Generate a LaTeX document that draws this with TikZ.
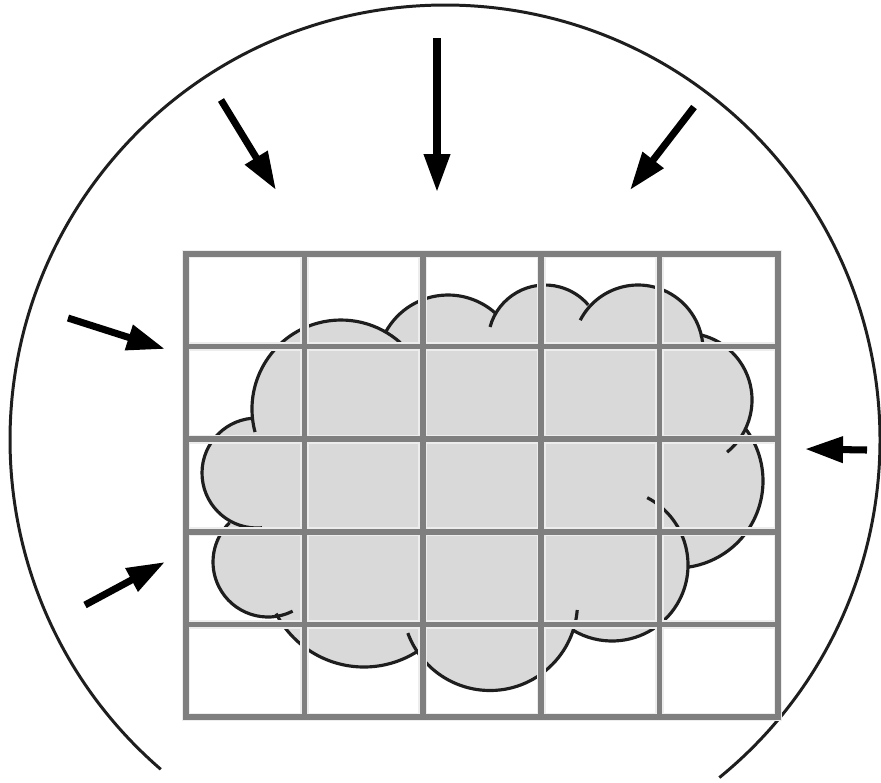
\documentclass[tikz,border=0pt]{standalone}
\usetikzlibrary{arrows.meta}
\definecolor{puffgray}{HTML}{D9D9D9}
\definecolor{meshgray}{HTML}{7F7F7F}
\definecolor{ink}{HTML}{1E1E1E}
\begin{document}
\begin{tikzpicture}[x=0.02cm,y=-0.02cm,>={Triangle[length=7.6mm,width=5mm]},
  rim/.style={draw=ink,line width=1.7pt},
  puff/.style={draw=ink,line width=1.8pt},
  glow/.style={draw=black!7,line width=5pt,line cap=rect},
  mesh/.style={draw=meshgray,line width=3.2pt,line cap=rect},
  push/.style={->,line width=4pt}]
\useasboundingbox (0,0) rectangle (881,782);
\draw[rim] (445,440) ++(130.8:435) arc[start angle=130.8,end angle=410.9,radius=435];
\foreach \x/\y/\r in {341/409/89,448/366/71,545/342/57,638/350/65,685/400/67,676/481/87,
  612/565/76,490/603/87.5,364/568/99,268/562/55,257/473/55}
  \fill[puffgray] (\x,\y) circle[radius=\r];
\fill[puffgray] (341,409) -- (448,366) -- (545,342) -- (638,350) -- (685,400) -- (676,481)
  -- (612,565) -- (490,603) -- (364,568) -- (268,562) -- (257,473) -- cycle;
\foreach \x/\y/\r/\s/\e in {341/409/89/165/311.8,448/366/71/208.4/311.6,545/342/57/195.3/319.3,
  638/350/65/207.3/353.8,685/400/67/283/411.1,676/481/87/-37.5/82.1,612/565/76/-62.4/121,
  490/603/87.5/4.6/159.9,364/568/99/57.8/152.6,268/562/55/63.4/225.7,257/473/55/84.8/264.8}
  \draw[puff] (\x,\y) ++(\s:\r) arc[start angle=\s,end angle=\e,radius=\r];
\foreach \i in {0,...,5} {
  \draw[glow] (186+118.4*\i,254) -- (186+118.4*\i,717);
  \draw[glow] (186,254+92.6*\i) -- (778,254+92.6*\i);}
\foreach \i in {0,...,5} {
  \draw[mesh] (186+118.4*\i,254) -- (186+118.4*\i,717);
  \draw[mesh] (186,254+92.6*\i) -- (778,254+92.6*\i);}
\draw[push] (437,38) -- (437,192);
\draw[push] (221,100) -- (276,190);
\draw[push] (694,107) -- (630,190);
\draw[push] (68,318) -- (165,349);
\draw[push] (85,605) -- (165,562);
\draw[push] (867,450) -- (805,449);
\end{tikzpicture}
\end{document}
